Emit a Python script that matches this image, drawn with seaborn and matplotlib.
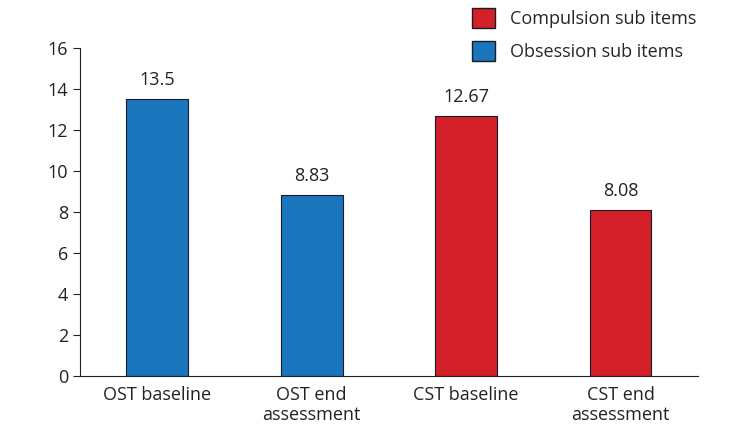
import pandas as pd
import matplotlib.pyplot as plt
import seaborn as sns
from matplotlib.patches import Patch

# data
conditions = ['OST baseline', 'OST end\nassessment', 'CST baseline', 'CST end\nassessment']
scores = [13.5, 8.83, 12.67, 8.08]
labels = ['13.5', '8.83', '12.67', '8.08']
groups = ['Obsession sub items', 'Obsession sub items', 'Compulsion sub items', 'Compulsion sub items']

df = pd.DataFrame({'Condition': conditions, 'Score': scores, 'Group': groups})

sns.set_style('white')
plt.rcParams['font.family'] = ['Open Sans', 'DejaVu Sans']

palette = {'Obsession sub items': '#1a76bc', 'Compulsion sub items': '#d31f27'}

fig = plt.figure(figsize=(7.4, 4.37), dpi=100)
ax = fig.add_axes([0.108, 0.14, 0.835, 0.75])

sns.barplot(
    x='Condition',
    y='Score',
    hue='Group',
    data=df,
    palette=palette,
    saturation=1,
    dodge=False,
    width=0.4,
    edgecolor='#1a1a2a',
    linewidth=0.8,
    legend=False,
    ax=ax
)

for i, (v, t) in enumerate(zip(scores, labels)):
    ax.text(i, v + 0.5, t, ha='center', va='bottom', fontsize=13, color='#222222')

ax.set_xlim(-0.5, 3.5)
ax.set_ylim(0, 16)
ax.set_yticks(range(0, 17, 2))
ax.set_xlabel('')
ax.set_ylabel('')
sns.despine(ax=ax)
ax.spines['left'].set_color('#222222')
ax.spines['bottom'].set_color('#222222')
ax.tick_params(axis='y', length=5, color='#222222', labelsize=13, labelcolor='#222222', left=True)
ax.tick_params(axis='x', length=0, labelsize=13, labelcolor='#222222', pad=7)

handles = [Patch(facecolor=palette['Compulsion sub items'], edgecolor='#1a1a2a', label='Compulsion sub items'),
           Patch(facecolor=palette['Obsession sub items'], edgecolor='#1a1a2a', label='Obsession sub items')]
fig.legend(handles=handles, loc='upper left', bbox_to_anchor=(0.635, 0.986), frameon=False,
           fontsize=13, handlelength=1.3, handleheight=1.3, handletextpad=0.8, labelspacing=0.75,
           borderaxespad=0.0, borderpad=0.1)

plt.savefig('out.png', dpi=100)
plt.close()
